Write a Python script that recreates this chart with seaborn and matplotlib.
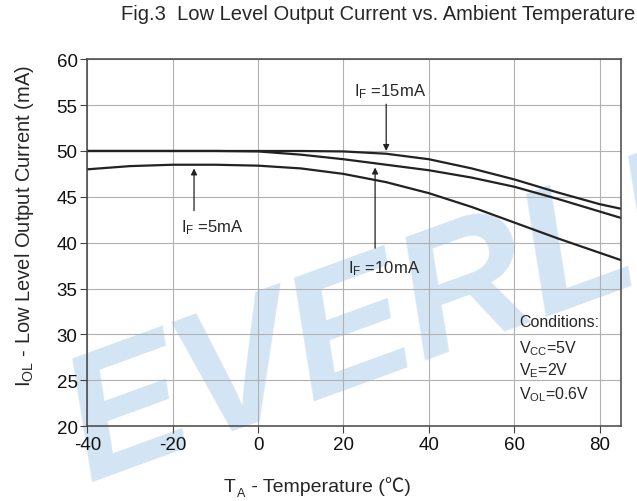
import pandas as pd
import seaborn as sns
import matplotlib.pyplot as plt

# data
temp = [-40, -30, -20, -10, 0, 10, 20, 30, 40, 50, 60, 70, 80, 85]
if_15ma = [50.0, 50.0, 50.0, 50.0, 50.0, 50.0, 49.95, 49.7, 49.1, 48.1, 46.9, 45.5, 44.2, 43.7]
if_10ma = [50.0, 50.0, 50.0, 50.0, 49.95, 49.6, 49.1, 48.5, 47.9, 47.1, 46.1, 44.8, 43.4, 42.7]
if_5ma = [48.0, 48.35, 48.5, 48.5, 48.4, 48.1, 47.5, 46.6, 45.4, 43.9, 42.2, 40.5, 38.9, 38.1]

x_ticks = [-40, -20, 0, 20, 40, 60, 80]
y_ticks = [20, 25, 30, 35, 40, 45, 50, 55, 60]

df = pd.DataFrame({
    "Temp": temp * 3,
    "Current": if_15ma + if_10ma + if_5ma,
    "IF": ["15mA"] * len(temp) + ["10mA"] * len(temp) + ["5mA"] * len(temp),
})

sns.set_style("white")
plt.rcParams["font.family"] = ["Liberation Sans", "DejaVu Sans"]
plt.rcParams["mathtext.fontset"] = "custom"
plt.rcParams["mathtext.rm"] = "Liberation Sans"
plt.rcParams["axes.unicode_minus"] = False

fig = plt.figure(figsize=(6.37, 5.02), dpi=100)
ax = fig.add_axes([0.137, 0.149, 0.838, 0.731])
ax.set_facecolor("none")

# faint logo watermark in the background (runs off the right edge like the original)
fig.text(0.07, -0.03, "EVERLIGHT", fontsize=128, fontweight="bold", fontstyle="italic",
         color="#d3e5f4", rotation=20, zorder=-1, ha="left", va="bottom")

sns.lineplot(data=df, x="Temp", y="Current", hue="IF",
             palette=["#222222", "#222222", "#222222"], linewidth=1.6,
             legend=False, ax=ax)

ax.set_xlim(-40, 85)
ax.set_ylim(20, 60)
ax.set_xticks(x_ticks)
ax.set_yticks(y_ticks)
ax.grid(True, color="#b0b0b0", linewidth=0.8)
ax.tick_params(axis="both", labelsize=13.5, length=5, direction="out", color="#444444",
               left=True, bottom=True, pad=2, labelcolor="#111111")
for s in ax.spines.values():
    s.set_color("#444444")
    s.set_linewidth(1.1)

ax.set_xlabel("")
ax.set_ylabel("")

# x label built from pieces so the degree-Celsius sign can use a CJK font
t_main = fig.text(224 / 637, 1 - 492 / 502, "T", fontsize=14, ha="left", va="baseline")
t_sub = ax.annotate("A", xy=(1, 0), xycoords=t_main, xytext=(0.5, -3),
                    textcoords="offset points", fontsize=9, ha="left", va="bottom",
                    annotation_clip=False)
ax.annotate(" - Temperature (℃)", xy=(1, 0), xycoords=(t_sub, t_main), xytext=(1, 0),
            textcoords="offset points", fontsize=14, ha="left", va="bottom",
            family=["Liberation Sans", "Noto Sans CJK SC"], annotation_clip=False)

fig.text(25 / 637, 1 - 226 / 502, r"$\mathregular{I_{OL}}$ - Low Level Output Current (mA)",
         fontsize=14.5, ha="center", va="center", rotation=90)
fig.text(0.998, 1 - 14 / 502, "Fig.3  Low Level Output Current vs. Ambient Temperature",
         ha="right", va="center", fontsize=14.5)

arrow = dict(arrowstyle="-|>", color="#222222", lw=0.9, mutation_scale=9)
ax.annotate("", xy=(30, 49.7), xytext=(30, 55.4), arrowprops=arrow)
ax.annotate("", xy=(27.4, 48.5), xytext=(27.4, 39.1), arrowprops=arrow)
ax.annotate("", xy=(-15, 48.4), xytext=(-15, 43.2), arrowprops=arrow)

ax.text(22.5, 56.6, r"$\mathregular{I_F}$ =15mA", fontsize=12, va="center")
ax.text(21.0, 37.3, r"$\mathregular{I_F}$ =10mA", fontsize=12, va="center")
ax.text(-18.0, 41.7, r"$\mathregular{I_F}$ =5mA", fontsize=12, va="center")

ax.text(61.2, 31.4, "Conditions:", fontsize=11.5, va="center")
ax.text(61.2, 28.6, r"$\mathregular{V_{CC}}$=5V", fontsize=11.5, va="center")
ax.text(61.2, 26.2, r"$\mathregular{V_E}$=2V", fontsize=11.5, va="center")
ax.text(61.2, 23.6, r"$\mathregular{V_{OL}}$=0.6V", fontsize=11.5, va="center")

fig.savefig("out.png", dpi=100)
